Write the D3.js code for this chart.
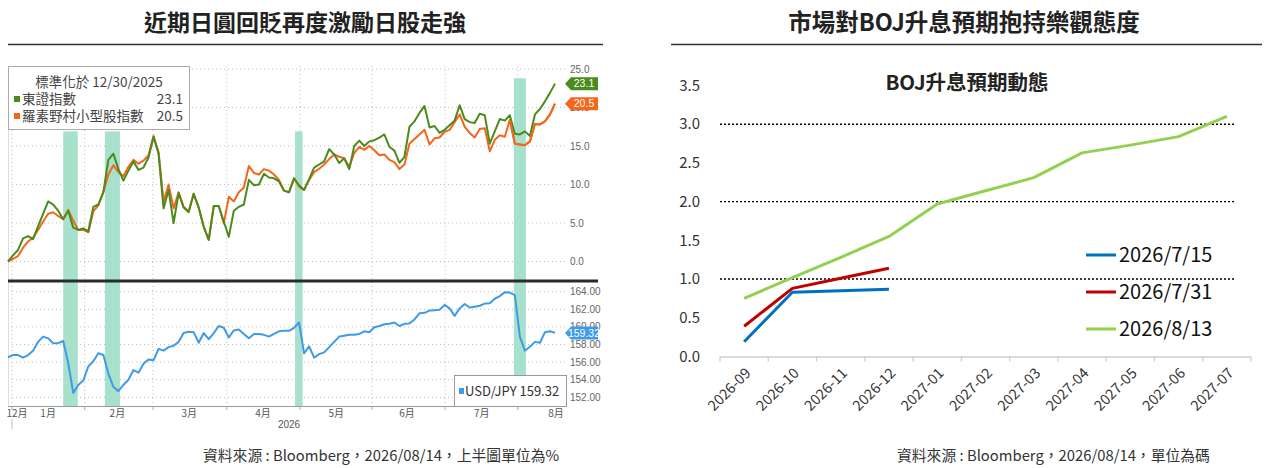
<!DOCTYPE html>
<html><head><meta charset="utf-8">
<script src="https://cdn.jsdelivr.net/npm/d3@7"></script>
<style>body{margin:0;background:#fff}svg{display:block}</style>
</head><body><svg id="c" width="1269" height="468"></svg>
<script>
// ---------------- DATA ----------------
const titleLeft = "近期日圓回貶再度激勵日股走強";
const titleRight = "市場對BOJ升息預期抱持樂觀態度";
const sourceLeft = "資料來源 : Bloomberg，2026/08/14，上半圖單位為%";
const sourceRight = "資料來源 : Bloomberg，2026/08/14，單位為碼";

// left chart: trading-day index 0..109
const topix = [0.0,0.8,1.5,3.0,3.3,2.9,4.6,6.2,7.8,7.4,
6.6,5.5,6.6,4.4,4.1,4.3,3.9,7.1,7.4,9.0,
13.2,14.0,12.0,10.5,11.8,13.0,11.9,12.2,13.5,16.2,
14.0,6.9,9.3,5.0,8.9,7.0,6.4,8.8,7.0,4.5,
2.8,7.2,7.2,5.2,3.2,6.6,7.1,7.4,10.6,9.9,
10.0,11.4,10.9,10.8,10.4,9.2,9.0,10.8,9.9,9.3,
10.7,12.2,12.6,13.0,14.6,13.9,12.8,13.4,12.0,15.0,
15.7,15.0,15.6,15.75,16.1,16.5,14.9,14.4,12.8,13.6,
17.5,18.2,19.3,20.2,17.4,17.6,16.7,17.1,17.7,18.3,
20.3,18.5,18.1,18.0,19.2,19.0,15.3,16.9,18.5,18.3,
19.0,16.6,16.5,16.9,16.3,19.1,19.8,20.8,21.9,23.1];
const smallcap = [0.0,0.35,0.7,1.8,2.6,3.1,4.1,5.2,6.2,6.4,
5.9,5.5,6.7,5.3,4.1,4.1,3.8,6.5,7.3,9.0,
11.3,12.5,11.6,11.1,12.3,13.2,12.7,13.1,13.8,16.3,
14.2,7.8,10.0,6.9,9.0,7.1,6.5,8.8,7.0,4.5,
2.8,7.2,7.2,4.95,8.4,7.8,9.0,9.6,12.4,11.5,
11.3,12.0,11.8,11.3,10.6,9.2,9.0,10.8,9.7,9.3,
10.6,11.6,12.05,12.6,13.3,13.9,13.6,13.4,12.3,14.1,
14.9,14.5,15.0,14.45,13.8,13.9,13.2,12.9,12.0,12.6,
15.3,15.9,16.5,17.1,15.2,16.0,16.1,16.85,17.1,18.1,
19.1,17.5,16.7,16.1,17.2,17.3,14.3,15.8,16.4,16.2,
18.4,15.3,15.2,15.1,15.6,17.85,17.8,18.2,19.1,20.5];
const usdjpy = [156.55,156.8,156.8,156.5,156.8,157.3,158.3,158.9,158.7,158.15,
158.15,158.4,155.9,152.5,153.4,153.9,155.5,156.1,157.0,156.8,
154.7,153.2,152.7,153.4,154.0,155.1,154.8,155.8,156.3,156.2,
157.5,157.3,157.7,157.85,158.3,159.3,159.45,159.4,158.2,159.3,
158.6,159.3,160.1,159.9,158.8,159.6,159.7,159.2,158.7,159.2,
159.2,159.1,158.9,159.2,159.5,159.55,159.55,159.9,160.5,157.0,
157.8,156.5,156.9,157.1,157.7,158.3,158.9,159.0,159.1,159.1,
159.2,159.5,159.4,159.95,160.1,160.3,160.35,160.5,160.1,160.35,
160.4,160.85,161.55,161.6,161.85,161.9,161.95,162.5,162.1,161.25,
162.1,162.6,162.2,162.3,162.4,162.65,162.7,163.2,163.5,163.95,
163.9,163.6,158.9,157.3,157.75,158.3,158.2,159.4,159.5,159.32];
const topixLast = 23.1, smallcapLast = 20.5, usdjpyLast = 159.32;
const topTicks = [0,5,10,15,20,25];
const botTicks = [152,154,156,158,160,162,164];
const monthLabels = ["12月","1月","2月","3月","4月","5月","6月","7月","8月"];
const monthPos = [1.8,8.0,21.8,36.1,50.8,65.4,79.5,94.4,109.2];
const gridPos = [0.8,15.3,28.9,43.6,58.2,72.5,87.1,101.6];
const yearLabel = "2026", yearPos = 56;
const bandStart = [11.0,19.3,57.2,100.8];
const bandEnd   = [13.9,22.3,58.7,103.2];
const bandTop   = [16.9,16.9,16.9,23.8];
const legendTitle = "標準化於 12/30/2025";
const nameTopix = "東證指數", nameSmall = "羅素野村小型股指數", nameFx = "USD/JPY";

// right chart
const months = ["2026-09","2026-10","2026-11","2026-12","2027-01","2027-02","2027-03","2027-04","2027-05","2027-06","2027-07"];
const s0715 = [0.19,0.83,0.85,0.87];
const s0731 = [0.39,0.88,1.01,1.14];
const s0813 = [0.75,1.02,1.28,1.55,1.97,2.14,2.31,2.63,2.73,2.84,3.10];
const seriesNames = ["2026/7/15","2026/7/31","2026/8/13"];
const rightTicks = [0,0.5,1,1.5,2,2.5,3,3.5];
const rightGrid = [1,2,3];
const chartTitle = "BOJ升息預期動態";

// ---------------- DRAW ----------------
const FONT = '"Noto Sans CJK TC","Noto Sans",sans-serif';
const svg = d3.select("#c").attr("font-family", FONT);
const GREEN = "#4b8b1d", ORANGE = "#f4661b", BLUE = "#3f9ae8", BAND = "#a7e0cb";

// titles + rules
svg.append("text").attr("x",305).attr("y",31).attr("text-anchor","middle")
  .attr("font-size",23).attr("font-weight","bold").attr("fill","#222").text(titleLeft);
svg.append("text").attr("x",964).attr("y",31).attr("text-anchor","middle")
  .attr("font-size",23.5).attr("font-weight","bold").attr("fill","#222").text(titleRight);
svg.append("line").attr("x1",8).attr("x2",603).attr("y1",44.5).attr("y2",44.5).attr("stroke","#333").attr("stroke-width",1.3);
svg.append("line").attr("x1",671).attr("x2",1262).attr("y1",44.5).attr("y2",44.5).attr("stroke","#333").attr("stroke-width",1.3);

// ---- left chart ----
const x = d3.scaleLinear().domain([0,109]).range([8,555]);
const yT = d3.scaleLinear().domain([0,25]).range([261.5,69]);
const yB = d3.scaleLinear().domain([152,164]).range([397.3,291.7]);
const L = svg.append("g");

// gridlines
L.selectAll(".gt").data(topTicks).join("line")
  .attr("x1",8).attr("x2",566).attr("y1",d=>yT(d)).attr("y2",d=>yT(d))
  .attr("stroke","#bbb").attr("stroke-dasharray","1,3");
L.selectAll(".gb").data(botTicks).join("line")
  .attr("x1",8).attr("x2",566).attr("y1",d=>yB(d)).attr("y2",d=>yB(d))
  .attr("stroke","#bbb").attr("stroke-dasharray","1,3");
L.selectAll(".gv").data(gridPos).join("line")
  .attr("x1",d=>x(d)).attr("x2",d=>x(d)).attr("y1",66).attr("y2",406)
  .attr("stroke","#bbb").attr("stroke-dasharray","1,3");
L.append("line").attr("x1",8.5).attr("x2",8.5).attr("y1",66).attr("y2",406).attr("stroke","#ddd");

// bands
L.selectAll(".band").data(bandStart).join("rect")
  .attr("x",(d,i)=>x(d)).attr("width",(d,i)=>x(bandEnd[i])-x(d))
  .attr("y",(d,i)=>yT(bandTop[i])).attr("height",(d,i)=>406-yT(bandTop[i]))
  .attr("fill",BAND);

// divider & axis
L.append("line").attr("x1",8).attr("x2",598).attr("y1",281).attr("y2",281).attr("stroke","#2a2a2a").attr("stroke-width",3);
L.append("line").attr("x1",8).attr("x2",567).attr("y1",406.5).attr("y2",406.5).attr("stroke","#999");
L.selectAll(".tk").data(gridPos).join("line")
  .attr("x1",d=>x(d)).attr("x2",d=>x(d)).attr("y1",406).attr("y2",410).attr("stroke","#aaa");

// lines
const idx = d3.range(topix.length);
const lineT = d3.line().x(i=>x(i)).y(i=>yT(topix[i]));
const lineS = d3.line().x(i=>x(i)).y(i=>yT(smallcap[i]));
const lineF = d3.line().x(i=>x(i)).y(i=>yB(usdjpy[i]));
L.append("path").attr("d",lineS(idx)).attr("fill","none").attr("stroke",ORANGE).attr("stroke-width",2).attr("stroke-linejoin","round");
L.append("path").attr("d",lineT(idx)).attr("fill","none").attr("stroke",GREEN).attr("stroke-width",2).attr("stroke-linejoin","round");
L.append("path").attr("d",lineS(idx.slice(100))).attr("fill","none").attr("stroke",ORANGE).attr("stroke-width",2);
L.append("path").attr("d",lineF(idx)).attr("fill","none").attr("stroke",BLUE).attr("stroke-width",2).attr("stroke-linejoin","round");

// axis labels right
const AX = '"Liberation Sans","DejaVu Sans",sans-serif';
L.selectAll(".lt").data(topTicks).join("text")
  .attr("x",570).attr("y",d=>yT(d)).attr("dy","0.35em").attr("font-size",10).attr("font-family",AX)
  .attr("fill","#666").text(d=>d3.format(".1f")(d));
L.selectAll(".lb").data(botTicks).join("text")
  .attr("x",570).attr("y",d=>yB(d)).attr("dy","0.35em").attr("font-size",10).attr("font-family",AX)
  .attr("fill","#666").text(d=>d3.format(".2f")(d));

// value tags
function tag(yv, col, label){
  const g = L.append("g");
  g.append("path").attr("d",`M565,${yv}L571,${yv-6.5}L598,${yv-6.5}L598,${yv+6.5}L571,${yv+6.5}Z`).attr("fill",col);
  g.append("text").attr("x",584).attr("y",yv).attr("dy","0.36em").attr("text-anchor","middle")
    .attr("font-size",10.5).attr("font-family",AX).attr("fill","#fff").text(label);
}
tag(yT(topixLast), GREEN, d3.format(".1f")(topixLast));
tag(yT(smallcapLast), ORANGE, d3.format(".1f")(smallcapLast));
tag(yB(usdjpyLast), BLUE, d3.format(".2f")(usdjpyLast));

// month labels
L.selectAll(".ml").data(monthLabels).join("text")
  .attr("x",(d,i)=>x(monthPos[i])).attr("y",413).attr("dy","0.35em").attr("text-anchor","middle")
  .attr("font-size",10).attr("fill","#555").text(d=>d);
L.append("line").attr("x1",x(gridPos[0])).attr("x2",x(gridPos[0])).attr("y1",419).attr("y2",429).attr("stroke","#bbb");
L.append("text").attr("x",x(yearPos)).attr("y",424).attr("dy","0.35em").attr("text-anchor","middle")
  .attr("font-size",10).attr("font-family",AX).attr("fill","#555").text(yearLabel);

// legend box top
L.append("rect").attr("x",8.5).attr("y",66.5).attr("width",181).attr("height",63).attr("fill","#fff").attr("stroke","#aaa");
L.append("text").attr("x",99).attr("y",82).attr("dy","0.35em").attr("text-anchor","middle")
  .attr("font-size",13.5).attr("fill","#444").text(legendTitle);
[[nameTopix,topixLast,GREEN,99],[nameSmall,smallcapLast,ORANGE,116]].forEach(r=>{
  L.append("rect").attr("x",14).attr("y",r[3]-3).attr("width",6).attr("height",6).attr("fill",r[2]);
  L.append("text").attr("x",22).attr("y",r[3]).attr("dy","0.35em").attr("font-size",13.5).attr("fill","#444").text(r[0]);
  L.append("text").attr("x",183).attr("y",r[3]).attr("dy","0.35em").attr("text-anchor","end").attr("font-size",13.5).attr("fill","#444").text(d3.format(".1f")(r[1]));
});
// legend box bottom
L.append("rect").attr("x",454.5).attr("y",375.5).attr("width",112).attr("height",31).attr("fill","#fff").attr("stroke","#999");
L.append("rect").attr("x",459).attr("y",388).attr("width",5).attr("height",6).attr("fill",BLUE);
L.append("text").attr("x",465).attr("y",391).attr("dy","0.35em").attr("font-size",13).attr("fill","#333")
  .text(nameFx+" "+d3.format(".2f")(usdjpyLast));

svg.append("text").attr("x",203).attr("y",456).attr("dy","0.35em").attr("font-size",14.8).attr("fill","#333").text(sourceLeft);

// ---- right chart ----
const R = svg.append("g");
const xb = d3.scaleBand().domain(months).range([720,1251]);
const xc = d => xb(d) + xb.bandwidth()/2;
const yr = d3.scaleLinear().domain([0,3.5]).range([356.5,85.5]);
R.selectAll(".rg").data(rightGrid).join("line")
  .attr("x1",720).attr("x2",1235).attr("y1",d=>yr(d)).attr("y2",d=>yr(d))
  .attr("stroke","#000").attr("stroke-width",1.4).attr("stroke-dasharray","2,2");
R.append("line").attr("x1",720).attr("x2",1251).attr("y1",yr(0)+0.5).attr("y2",yr(0)+0.5).attr("stroke","#d0d0d0").attr("stroke-width",1.3);
R.selectAll(".rt").data(months.concat([null])).join("line")
  .attr("x1",(d,i)=>720+i*xb.step()).attr("x2",(d,i)=>720+i*xb.step())
  .attr("y1",yr(0)).attr("y2",yr(0)+5).attr("stroke","#d0d0d0").attr("stroke-width",1.3);
R.selectAll(".ry").data(rightTicks).join("text")
  .attr("x",700).attr("y",d=>yr(d)).attr("dy","0.35em").attr("text-anchor","end")
  .attr("font-size",15).attr("fill","#333").text(d=>d3.format(".1f")(d));
R.selectAll(".rx").data(months).join("text")
  .attr("transform",d=>`translate(${xc(d)+4},${yr(0)+14}) rotate(-45)`)
  .attr("text-anchor","end").attr("dy","0.35em").attr("font-size",14.5).attr("fill","#333").text(d=>d);
R.append("text").attr("x",967).attr("y",83).attr("dy","0.35em").attr("text-anchor","middle")
  .attr("font-size",20.5).attr("font-weight","bold").attr("fill","#222").text(chartTitle);
const rl = d3.line().x((d,i)=>xc(months[i])).y(d=>yr(d));
const rCols = ["#0070c0","#c00000","#92d050"];
[s0715,s0731,s0813].forEach((s,k)=>{
  R.append("path").attr("d",rl(s)).attr("fill","none").attr("stroke",rCols[k]).attr("stroke-width",3).attr("stroke-linejoin","round");
});
seriesNames.forEach((n,k)=>{
  const yy = 255 + k*37;
  R.append("line").attr("x1",1086).attr("x2",1116).attr("y1",yy).attr("y2",yy).attr("stroke",rCols[k]).attr("stroke-width",3);
  R.append("text").attr("x",1119).attr("y",yy).attr("dy","0.35em").attr("font-size",20).attr("fill","#111").text(n);
});
svg.append("text").attr("x",897).attr("y",456).attr("dy","0.35em").attr("font-size",14.8).attr("fill","#333").text(sourceRight);
</script></body></html>
